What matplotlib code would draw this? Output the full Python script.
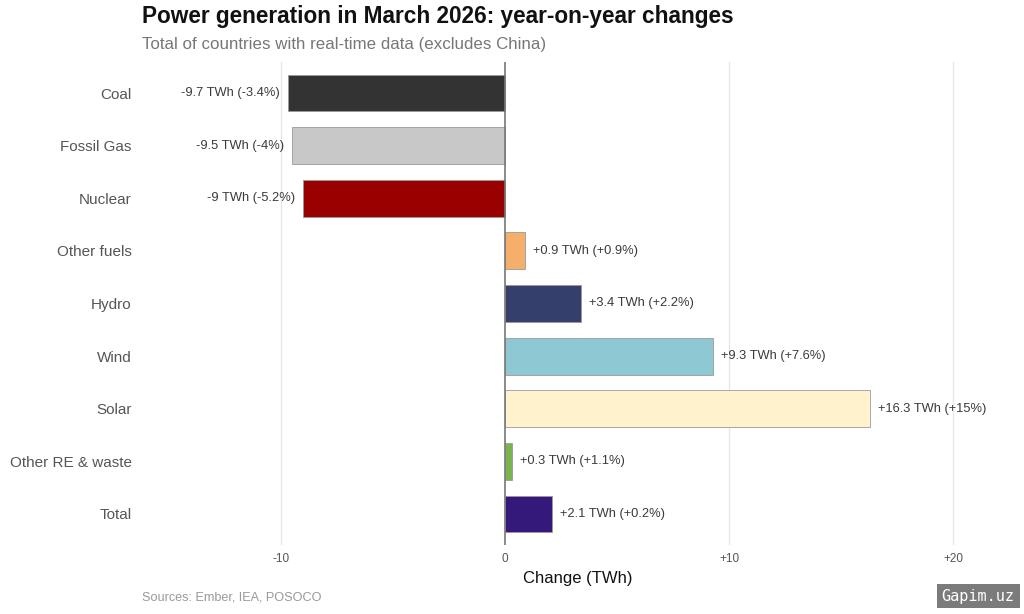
import matplotlib
matplotlib.use("Agg")
import matplotlib.pyplot as plt
from matplotlib.patches import Rectangle

categories = ["Coal", "Fossil Gas", "Nuclear", "Other fuels", "Hydro", "Wind",
              "Solar", "Other RE & waste", "Total"]
changes_twh = [-9.7, -9.5, -9.0, 0.9, 3.4, 9.3, 16.3, 0.3, 2.1]
changes_pct = ["-3.4%", "-4%", "-5.2%", "+0.9%", "+2.2%", "+7.6%", "+15%", "+1.1%", "+0.2%"]
twh_labels = ["-9.7", "-9.5", "-9", "+0.9", "+3.4", "+9.3", "+16.3", "+0.3", "+2.1"]
colors = ["#333333", "#c8c8c8", "#990000", "#f6ae6b", "#353f6c", "#8ec8d2",
          "#fff2cc", "#78b64c", "#35197a"]
xticks = [-10, 0, 10, 20]
xtick_labels = ["-10", "0", "+10", "+20"]

plt.rcParams['font.family'] = ['Liberation Sans', 'DejaVu Sans']

fig = plt.figure(figsize=(10.24, 6.14), dpi=100)
W, H = 1024, 614
ax = fig.add_axes([140 / W, 1 - 545 / H, 875 / W, 483 / H])

px = 22.4
ax.set_xlim((140 - 505) / px, (1015 - 505) / px)
ax.set_ylim(len(categories) - 1 + 0.59, -0.59)

for x in xticks:
    if x != 0:
        ax.axvline(x, color="#e6e6e6", lw=0.9, zorder=0)

ys = list(range(len(categories)))
ax.barh(ys, changes_twh, height=0.7, color=colors, edgecolor="#9a9a9a",
        linewidth=0.6, zorder=2)
ax.axvline(0, color="#777777", lw=1.2, zorder=3)

off = 8 / px
for y, v, t, p in zip(ys, changes_twh, twh_labels, changes_pct):
    lab = f"{t} TWh ({p})"
    if v < 0:
        ax.text(v - off, y, lab, ha="right", va="center", fontsize=9.3, color="#3a3a3a")
    else:
        ax.text(v + off, y, lab, ha="left", va="center", fontsize=9.3, color="#3a3a3a")

ax.set_yticks(ys)
ax.set_yticklabels(categories, fontsize=11, color="#555555")
ax.set_xticks(xticks)
ax.set_xticklabels(xtick_labels, fontsize=8.5, color="#555555")
ax.tick_params(axis="both", length=0)
ax.tick_params(axis="y", pad=6)
ax.tick_params(axis="x", pad=6)
for s in ax.spines.values():
    s.set_visible(False)
ax.set_xlabel("Change (TWh)", fontsize=12, color="#111111", labelpad=4)

fig.text(142 / W, 1 - 17 / H, "Power generation in March 2026: year-on-year changes",
         fontsize=16.3, fontweight="bold", color="#111111", ha="left", va="center")
fig.text(142 / W, 1 - 45 / H, "Total of countries with real-time data (excludes China)",
         fontsize=12.2, color="#777777", ha="left", va="center")
fig.text(142 / W, 1 - 598 / H, "Sources: Ember, IEA, POSOCO",
         fontsize=9.1, color="#999999", ha="left", va="center")

# watermark box
fig.patches.append(Rectangle((937 / W, 1 - 608 / H), 83 / W, 24 / H,
                             transform=fig.transFigure, facecolor="#7b7b7b",
                             edgecolor="none"))
fig.text(978 / W, 1 - 597 / H, "Gapim.uz", fontsize=11, color="white",
         ha="center", va="center", family="DejaVu Sans Mono")

fig.savefig("out.png", dpi=100, facecolor="white")
